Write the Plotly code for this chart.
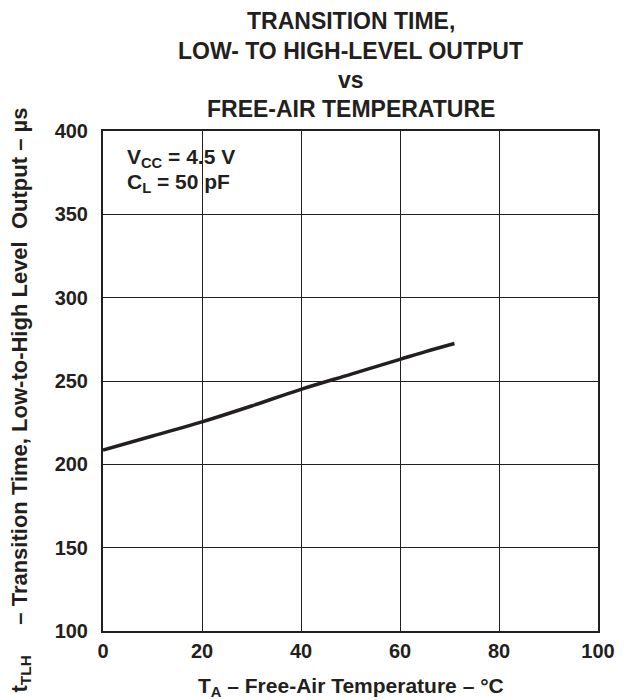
import plotly.graph_objects as go

temps = [0, 10, 20, 30, 40, 50, 60, 65, 71]
t_tlh = [208.5, 217, 225.5, 235, 245, 254, 263, 267.5, 272.5]
x_ticks = [0, 20, 40, 60, 80, 100]
y_ticks = [100, 150, 200, 250, 300, 350, 400]

FONT = "Liberation Sans"
INK = "#231f20"

# page body has an 8px margin; figure sized so it ends at the window edge
W, H = 619, 692
L, R, T, B = 95, 26, 123, 69
PH = H - T - B  # 500


def py(yfig):
    """figure pixel y -> paper y"""
    return (H - B - yfig) / PH


def px(xfig):
    return (xfig - L) / (W - L - R)


fig = go.Figure()
fig.add_trace(go.Scatter(x=temps, y=t_tlh, mode="lines",
                         line=dict(color=INK, width=3.5, shape="spline"),
                         showlegend=False, hoverinfo="skip"))

axis_common = dict(showgrid=True, gridcolor=INK, gridwidth=1,
                   showline=True, linecolor=INK, linewidth=2, mirror=True,
                   zeroline=False, ticks="",
                   tickfont=dict(family=FONT, size=20, color=INK, weight="bold"))

fig.update_xaxes(range=[0, 100], tickvals=x_ticks, ticktext=[str(v) for v in x_ticks],
                 ticklabelstandoff=1, **axis_common)
fig.update_yaxes(range=[100, 400], tickvals=y_ticks, ticktext=[str(v) for v in y_ticks],
                 ticklabelstandoff=9, **axis_common)

title_lines = ["TRANSITION TIME,", "LOW- TO HIGH-LEVEL OUTPUT", "vs", "FREE-AIR TEMPERATURE"]
title_y = [13, 43, 72, 101]
annotations = []
for txt, yy in zip(title_lines, title_y):
    annotations.append(dict(text=txt, xref="paper", yref="paper", x=0.5,
                            y=py(yy), xanchor="center", yanchor="middle",
                            showarrow=False,
                            font=dict(family=FONT, size=23, color=INK, weight="bold")))

annotations.append(dict(text="V<sub>CC</sub> = 4.5 V",
                        xref="paper", yref="paper", x=px(117), y=py(150),
                        xanchor="left", yanchor="middle", align="left", showarrow=False,
                        font=dict(family=FONT, size=21, color=INK, weight="bold")))
annotations.append(dict(text="C<sub>L</sub> = 50 pF",
                        xref="paper", yref="paper", x=px(117), y=py(175),
                        xanchor="left", yanchor="middle", align="left", showarrow=False,
                        font=dict(family=FONT, size=21, color=INK, weight="bold")))

annotations.append(dict(text="T<sub>A</sub> – Free-Air Temperature – °C",
                        xref="paper", yref="paper", x=0.5, y=py(679),
                        xanchor="center", yanchor="middle", showarrow=False,
                        font=dict(family=FONT, size=21, color=INK, weight="bold")))

annotations.append(dict(text="t<sub>TLH</sub>&nbsp;&nbsp;&nbsp;&nbsp;&nbsp;– Transition Time, Low-to-High Level&nbsp;&nbsp;Output – µs",
                        xref="paper", yref="paper", x=px(12), y=py(392),
                        xanchor="center", yanchor="middle", textangle=-90, showarrow=False,
                        font=dict(family=FONT, size=22, color=INK, weight="bold")))

fig.update_layout(width=W, height=H,
                  margin=dict(l=L, r=R, t=T, b=B),
                  paper_bgcolor="white", plot_bgcolor="white",
                  annotations=annotations)

fig.write_html("out.html")
